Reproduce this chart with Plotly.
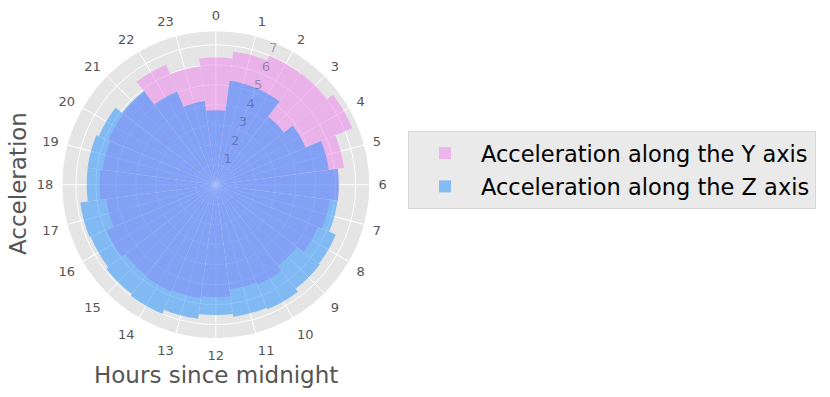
import plotly.graph_objects as go

hours = list(range(24))
hour_labels = [str(h) for h in hours]
accel_y = [6.37, 6.72, 7.00, 7.03, 7.39, 6.47, 6.16, 5.75, 5.53, 5.11, 5.41, 5.28,
           5.63, 5.71, 5.78, 5.72, 5.92, 5.52, 5.82, 5.71, 5.82, 5.85, 6.50, 5.98]
accel_z = [3.73, 5.24, 5.24, 4.30, 4.86, 5.70, 6.15, 6.14, 6.50, 6.56, 6.75, 6.66,
           6.52, 6.77, 7.00, 6.90, 6.78, 6.84, 6.46, 6.47, 6.33, 5.91, 5.05, 4.22]
radial_ticks = [1, 2, 3, 4, 5, 6, 7]
radial_label_angle = 22.5

theta = [h * 15 for h in hours]
font = "DejaVu Sans"

fig = go.Figure()
fig.add_trace(go.Barpolar(
    r=accel_y, theta=theta, width=[15] * 24, name="Acceleration along the Y axis",
    marker=dict(color="#EE82EE", line=dict(width=0)), opacity=0.5, legendgroup="y"))
fig.add_trace(go.Barpolar(
    r=accel_z, theta=theta, width=[15] * 24, name="Acceleration along the Z axis",
    marker=dict(color="#1E90FF", line=dict(width=0)), opacity=0.5, legendgroup="z"))
# radial tick labels, toned so they look as if seen through the translucent bars
fig.add_trace(go.Scatterpolar(
    r=radial_ticks, theta=[radial_label_angle] * len(radial_ticks),
    text=[str(t) for t in radial_ticks], mode="text", textposition="top right",
    textfont=dict(size=13, color="rgba(60,60,110,0.45)", family=font),
    showlegend=False, hoverinfo="skip"))

W, H = 830, 397
cx, cy, R = 215.8, 184.7, 153.5
fig.update_layout(
    width=W, height=H,
    margin=dict(l=0, r=0, t=0, b=0),
    paper_bgcolor="white",
    font=dict(family=font, color="#555555", size=13),
    polar=dict(
        barmode="overlay",
        domain=dict(x=[(cx - R) / W, (cx + R) / W], y=[(H - cy - R) / H, (H - cy + R) / H]),
        bgcolor="#E5E5E5",
        angularaxis=dict(
            direction="clockwise", rotation=90, tickmode="array",
            tickvals=theta, ticktext=hour_labels, showline=False,
            gridcolor="white", gridwidth=1.2, ticks="outside", ticklen=6,
            tickcolor="rgba(0,0,0,0)", tickfont=dict(size=13, color="#555555")),
        radialaxis=dict(
            range=[0, 7.68], tickmode="array", tickvals=radial_ticks,
            showline=False, gridcolor="white", gridwidth=1.2, angle=67.5,
            showticklabels=False, ticks="", layer="below traces"),
    ),
    legend=dict(
        x=408 / W, y=(H - 131) / H, xanchor="left", yanchor="top",
        bgcolor="#EAEAEA", bordercolor="#D8D8D8", borderwidth=1,
        font=dict(size=22.5, color="black", family=font),
        itemwidth=62, tracegroupgap=1),
    annotations=[
        dict(text="Hours since midnight", x=cx / W, y=(H - 375) / H, xref="paper", yref="paper",
             showarrow=False, font=dict(size=23, color="#555555"), xanchor="center", yanchor="middle"),
        dict(text="Acceleration", x=18 / W, y=(H - 184) / H, xref="paper", yref="paper",
             showarrow=False, textangle=-90, font=dict(size=23, color="#555555"),
             xanchor="center", yanchor="middle"),
    ],
)

fig.write_html("out.html", config={"displayModeBar": False},
               post_script="document.body.style.margin='0';")
